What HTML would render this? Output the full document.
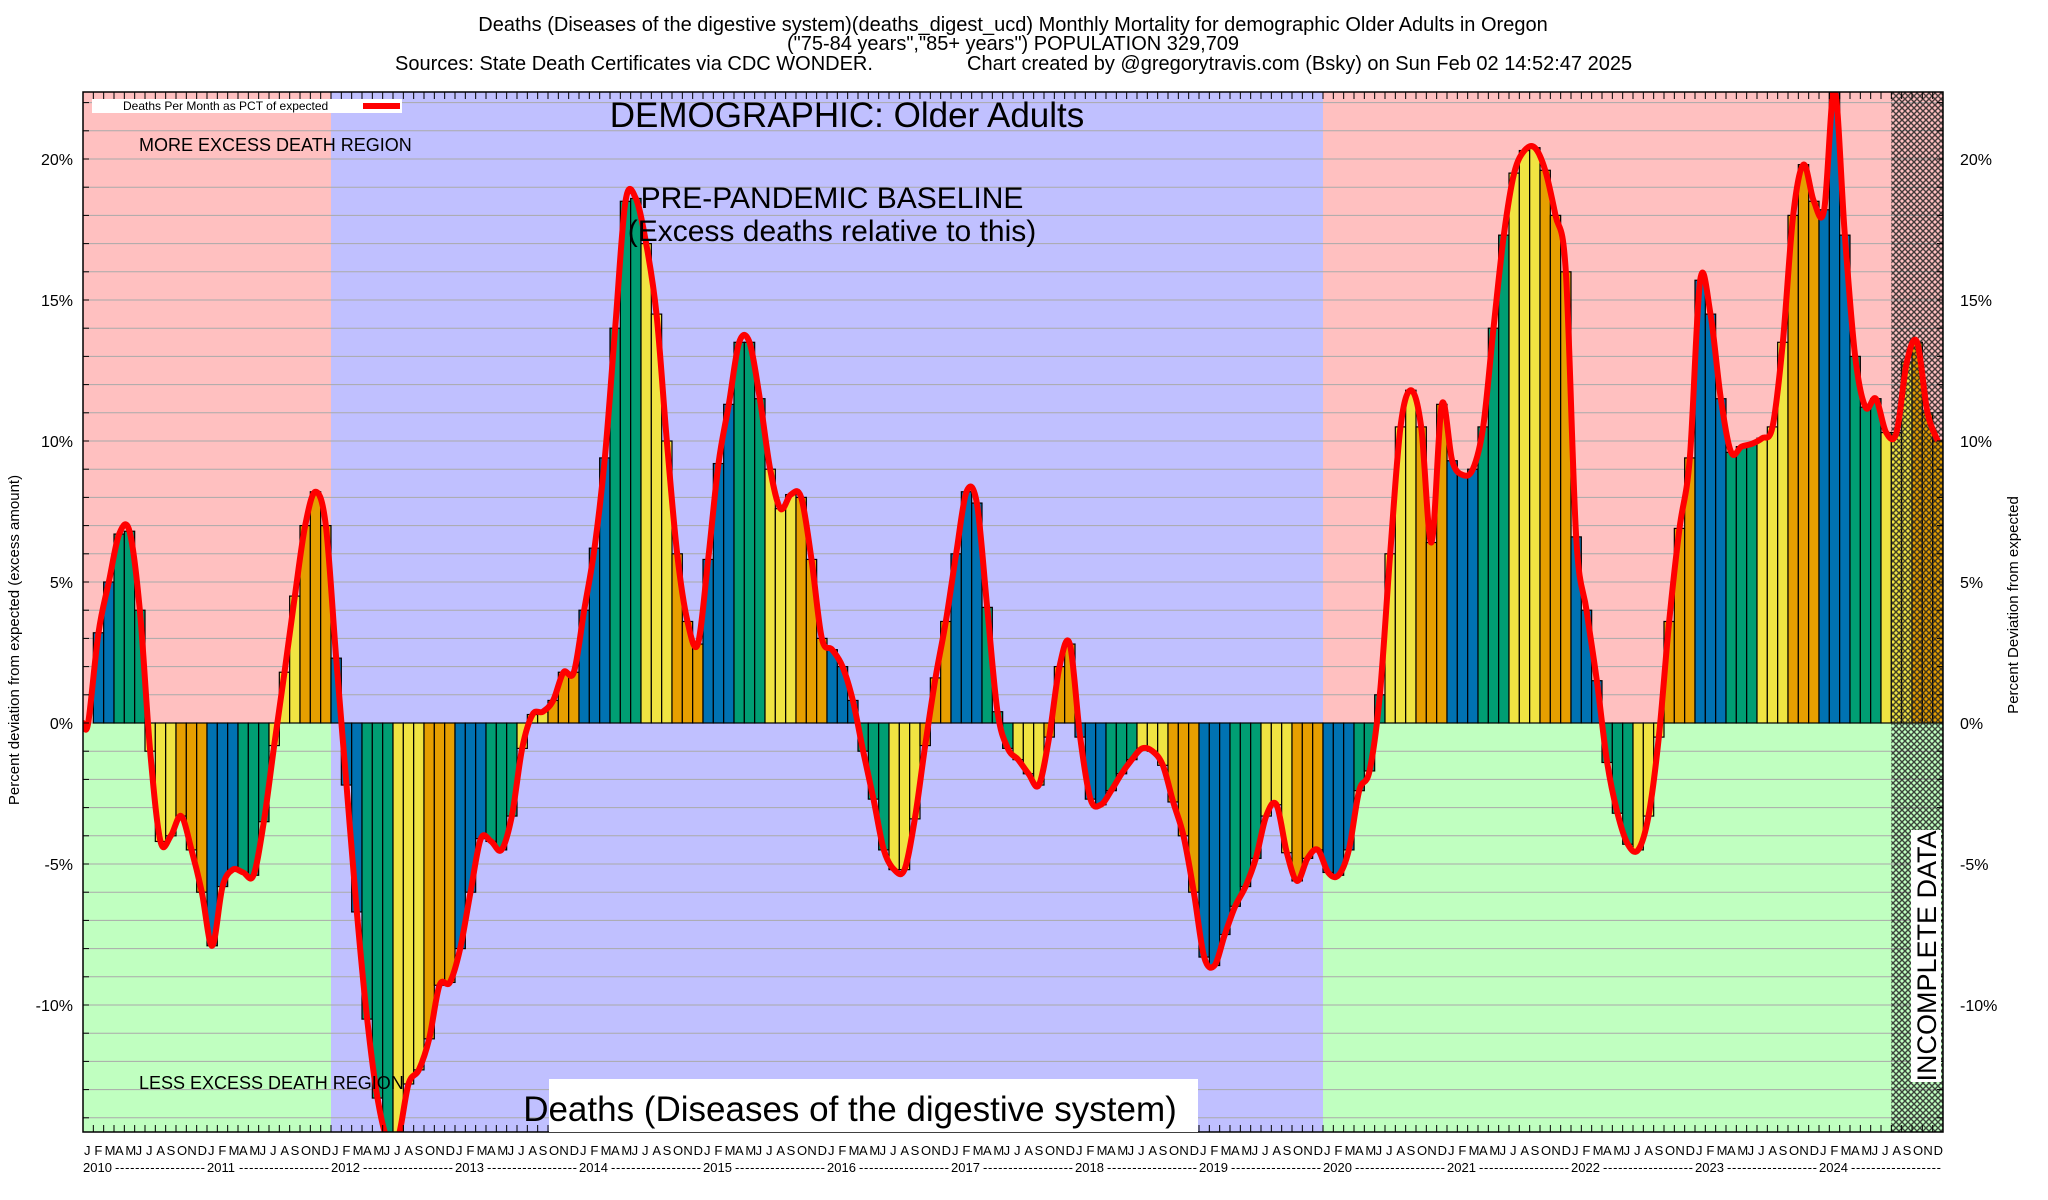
<!DOCTYPE html>
<html><head><meta charset="utf-8"><style>
html,body{margin:0;padding:0;background:#fff;}
svg{display:block;font-family:"Liberation Sans",sans-serif;}
</style></head><body>
<svg id="chart" width="2048" height="1200" viewBox="0 0 2048 1200" xmlns="http://www.w3.org/2000/svg">
<defs>
<pattern id="hatch" width="6" height="6" patternUnits="userSpaceOnUse">
<path d="M0,0L6,6M6,0L0,6" stroke="#222" stroke-width="1.4"/>
</pattern>
<clipPath id="plotclip"><rect x="83" y="92" width="1860" height="1040"/></clipPath>
</defs>
<g id="bg"></g>
<g id="grid"></g>
<g id="bars" clip-path="url(#plotclip)"></g>
<g id="line" clip-path="url(#plotclip)"></g>
<g id="axes"></g>
<g id="labels"></g>
<text x="1013" y="31" font-size="20" text-anchor="middle">Deaths (Diseases of the digestive system)(deaths_digest_ucd) Monthly Mortality for demographic Older Adults in Oregon</text>
<text x="1013" y="50" font-size="20" text-anchor="middle">("75-84 years","85+ years") POPULATION 329,709</text>
<text x="395" y="70" font-size="20">Sources: State Death Certificates via CDC WONDER.</text>
<text x="967" y="70" font-size="20">Chart created by @gregorytravis.com (Bsky) on Sun Feb 02 14:52:47 2025</text>
<text x="847" y="127" font-size="35" text-anchor="middle">DEMOGRAPHIC: Older Adults</text>
<text x="832" y="208" font-size="30" text-anchor="middle">PRE-PANDEMIC BASELINE</text>
<text x="832" y="241" font-size="30" text-anchor="middle">(Excess deaths relative to this)</text>
<text x="139" y="151" font-size="18">MORE EXCESS DEATH REGION</text>
<text x="139" y="1089" font-size="18">LESS EXCESS DEATH REGION</text>
<rect x="92" y="99" width="310" height="14" fill="#fff"/>
<text x="123" y="110" font-size="12">Deaths Per Month as PCT of expected</text>
<line x1="363" y1="106" x2="400" y2="106" stroke="#f00" stroke-width="6"/>
<rect x="549" y="1079" width="649" height="53" fill="#fff"/>
<text x="850" y="1121" font-size="35" text-anchor="middle">Deaths (Diseases of the digestive system)</text>
<rect x="1911" y="830" width="30" height="252" fill="#fff"/>
<text transform="translate(1936,956) rotate(-90)" font-size="27" text-anchor="middle">INCOMPLETE DATA</text>
<text transform="translate(19,640) rotate(-90)" font-size="15" text-anchor="middle">Percent deviation from expected (excess amount)</text>
<text transform="translate(2018,605) rotate(-90)" font-size="15" text-anchor="middle">Percent Deviation from expected</text>
</svg>
<script>
const values2010 = [0,3.2,5,6.7,6.8,4,-1,-4.2,-4,-3.3,-4.5,-6];
const values2011 = [-7.9,-5.8,-5.2,-5.3,-5.4,-3.5,-0.8,1.8,4.5,7,8.2,7];
const values2012 = [2.3,-2.2,-6.7,-10.5,-13.3,-14.8,-14.7,-12.8,-12.3,-11.2,-9.3,-9.2];
const values2013 = [-8,-6,-4.1,-4.2,-4.5,-3.3,-0.9,0.3,0.4,0.8,1.8,1.8];
const values2014 = [4,6.2,9.4,14,18.5,18.6,17,14.5,10,6,3.6,2.8];
const values2015 = [5.8,9.2,11.3,13.5,13.5,11.5,9,7.6,8.1,8,5.8,3];
const values2016 = [2.6,2,0.8,-1,-2.7,-4.5,-5.2,-5.2,-3.4,-0.8,1.6,3.6];
const values2017 = [6,8.2,7.8,4.1,0.4,-0.9,-1.3,-1.8,-2.2,-0.5,2,2.8];
const values2018 = [-0.5,-2.7,-2.9,-2.4,-1.8,-1.3,-0.9,-1,-1.5,-2.8,-4,-6];
const values2019 = [-8.3,-8.6,-7.5,-6.5,-5.8,-4.8,-3.3,-2.9,-4.6,-5.6,-4.8,-4.5];
const values2020 = [-5.3,-5.4,-4.5,-2.4,-1.7,1,6,10.5,11.8,10.5,6.4,11.3];
const values2021 = [9.3,8.8,9,10.5,14,17.3,19.5,20.3,20.4,19.6,18,16];
const values2022 = [6.6,4,1.5,-1.4,-3.2,-4.3,-4.5,-3.3,-0.5,3.6,6.9,9.4];
const values2023 = [15.7,14.5,11.5,9.6,9.8,9.9,10.1,10.5,13.5,18,19.8,18.5];
const values2024 = [18.2,22.5,17.3,13,11.2,11.5,10.3,10.3,12.8,13.5,11,10];
const years = [2010,2011,2012,2013,2014,2015,2016,2017,2018,2019,2020,2021,2022,2023,2024];
const monthLetters = ["J","F","M","A","M","J","J","A","S","O","N","D"];
const yTicks = [-10,-5,0,5,10,15,20];
const values = [].concat(values2010,values2011,values2012,values2013,values2014,values2015,values2016,values2017,values2018,values2019,values2020,values2021,values2022,values2023,values2024);

const NS="http://www.w3.org/2000/svg";
const L=83,R=1943,T=92,B=1132;
const N=values.length;
const step=(R-L)/N;
function xs(i){return L+(i+0.5)*step;}
function ys(v){return 723 - v*28.2;}
function mk(tag,attrs,parent){const e=document.createElementNS(NS,tag);for(const k in attrs)e.setAttribute(k,attrs[k]);document.getElementById(parent).appendChild(e);return e;}

const yz=ys(0);
const bx1=L+24*step, bx2=L+120*step, hx=L+175*step;
let e;
e=mk('rect',{x:L,y:T,width:bx1-L,height:yz-T,fill:'#ffc0c0'},'bg');


e=mk('rect',{x:L,y:yz,width:bx1-L,height:B-yz,fill:'#c0ffc0'},'bg');


e=mk('rect',{x:bx1,y:T,width:bx2-bx1,height:B-T,fill:'#c0c0ff'},'bg');


e=mk('rect',{x:bx2,y:T,width:R-bx2,height:yz-T,fill:'#ffc0c0'},'bg');


e=mk('rect',{x:bx2,y:yz,width:R-bx2,height:B-yz,fill:'#c0ffc0'},'bg');



for(let v=-14;v<=22;v++){
  const y=ys(v); if(y<T||y>B) continue;
  e=mk('line',{x1:L,x2:R,y1:y,y2:y,stroke:'#aaa','stroke-width':1},'grid');
  
  
  mk('line',{x1:L,x2:L+6,y1:y,y2:y,stroke:'#000','stroke-width':1},'axes');
  mk('line',{x1:R-6,x2:R,y1:y,y2:y,stroke:'#000','stroke-width':1},'axes');
}

const colors=['#0072b2','#009e73','#f0e442','#e69f00'];
values.forEach((v,i)=>{
  const x=L+i*step;
  const y=Math.min(ys(v),yz), h=Math.abs(ys(v)-yz);
  const b=mk('rect',{x:x,y:y,width:step,height:h,fill:colors[Math.floor((i%12)/3)],stroke:'#000','stroke-width':1.2},'bars');
  
  
});

e=mk('rect',{x:hx,y:T,width:R-hx,height:B-T,fill:'url(#hatch)',opacity:0.85},'line');



const pts=[[L,ys(values[0])]].concat(values.map((v,i)=>[xs(i),ys(v)]));
let d='M'+pts[0][0]+','+pts[0][1];
for(let i=0;i<pts.length-1;i++){
  const p0=pts[Math.max(0,i-1)],p1=pts[i],p2=pts[i+1],p3=pts[Math.min(pts.length-1,i+2)];
  const c1=[p1[0]+(p2[0]-p0[0])/6,p1[1]+(p2[1]-p0[1])/6];
  const c2=[p2[0]-(p3[0]-p1[0])/6,p2[1]-(p3[1]-p1[1])/6];
  d+=' C'+c1[0]+','+c1[1]+' '+c2[0]+','+c2[1]+' '+p2[0]+','+p2[1];
}
e=mk('path',{d:d,fill:'none',stroke:'#f00','stroke-width':6,'stroke-linejoin':'round'},'line');



e=mk('rect',{x:L,y:T,width:R-L,height:B-T,fill:'none',stroke:'#000','stroke-width':1.5},'axes');



yTicks.forEach(v=>{
  const y=ys(v);
  let t=mk('text',{x:73,y:y+6,'font-size':16,'text-anchor':'end'},'labels');
  t.textContent=v+'%';
  
  
  t=mk('text',{x:1960,y:y+6,'font-size':16},'labels');
  t.textContent=v+'%';
  
  
});

values.forEach((v,i)=>{
  const x=xs(i);
  mk('line',{x1:L+i*step,x2:L+i*step,y1:B,y2:B-7,stroke:'#000'},'axes');
  mk('line',{x1:L+i*step,x2:L+i*step,y1:T,y2:T+7,stroke:'#000'},'axes');
  const t=mk('text',{x:L+i*step+1,y:1155,'font-size':13},'labels');
  t.textContent=monthLetters[i%12];
  
  
});
years.forEach((yr,k)=>{
  const x0=L+k*12*step;
  const t=mk('text',{x:x0,y:1172,'font-size':13},'labels');
  t.textContent=yr;
  
  
  const dsh=mk('text',{x:x0+32,y:1172,'font-size':13,textLength:step*12-34,lengthAdjust:'spacing'},'labels');
  dsh.textContent='- - - - - - - - - - - - - - - - - -';
  
  
});
</script>
</body></html>
